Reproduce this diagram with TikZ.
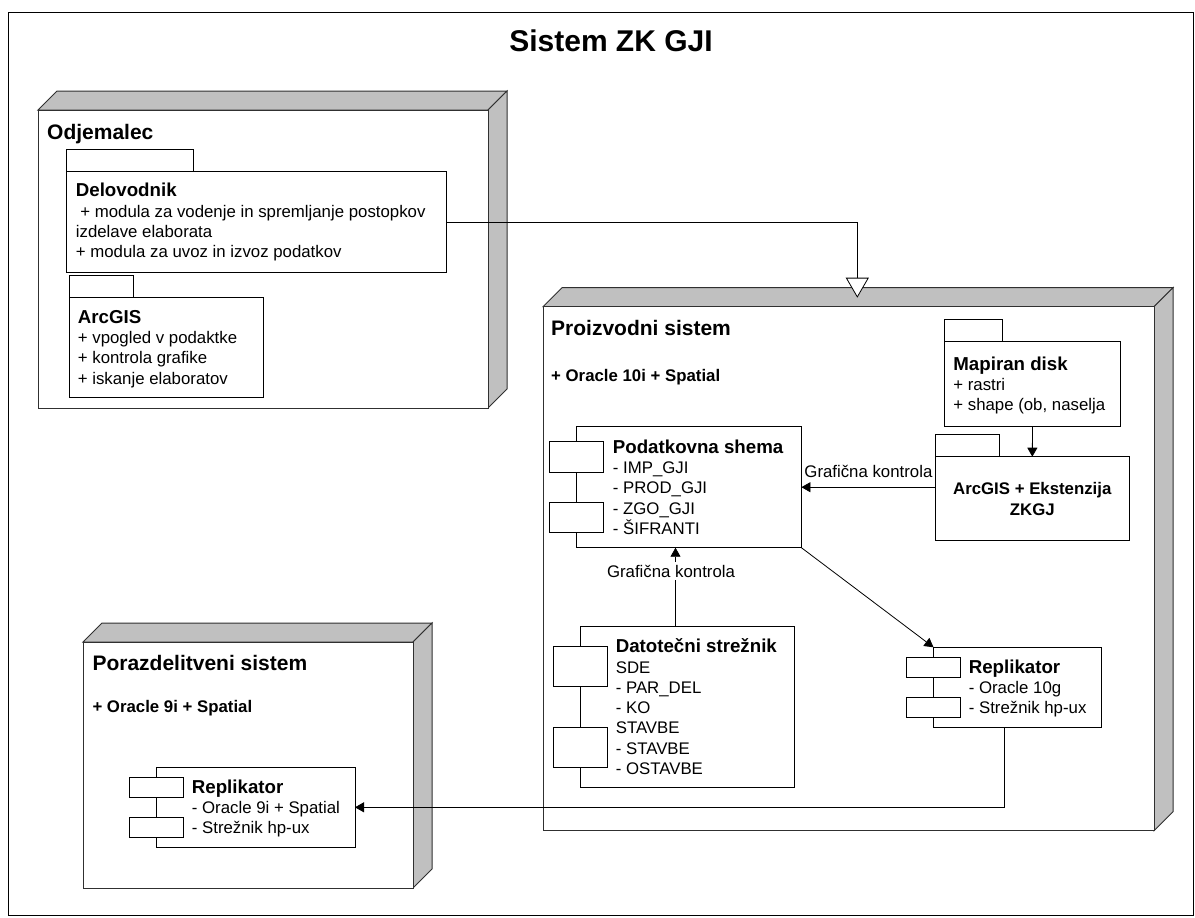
\documentclass[tikz,border=0pt]{standalone}
\usepackage{fontspec}
\setmainfont{Liberation Sans}
\usetikzlibrary{arrows.meta,calc}

\definecolor{facegray}{HTML}{C0C0C0}
\definecolor{edgegray}{HTML}{303030}

\newcommand\nodedepth{19}

% 3D deployment node: name, left, top, right, bottom (front face)
\newcommand\devicenode[5]{%
  \filldraw[shadeface] (#2,#3) -- ++(\nodedepth,-\nodedepth) -- ({#4+\nodedepth},{#3-\nodedepth}) -- (#4,#3) -- cycle;
  \filldraw[shadeface] (#4,#3) -- ({#4+\nodedepth},{#3-\nodedepth}) -- ({#4+\nodedepth},{#5-\nodedepth}) -- (#4,#5) -- cycle;
  \node[frontface, minimum width={#4-#2}, minimum height={#5-#3}] (#1) at (#2,#3) {};
}

% package: name, left, top of body, right end of tab, right, bottom
\newcommand\package[6]{%
  \draw[boxline] (#2,{#3-22}) rectangle (#4,#3);
  \node[boxed, minimum width={#5-#2}, minimum height={#6-#3}] (#1) at (#2,#3) {};
}

% component: name, left, top, right, bottom
\newcommand\component[5]{%
  \node[boxed, minimum width={#4-#2}, minimum height={#5-#3}] (#1) at (#2,#3) {};
  \pgfmathsetmacro\compunit{(#5-#3)/4}
  \filldraw[boxline, fill=white] ({#2-27},{#3+\compunit/2}) rectangle ++(54,\compunit);
  \filldraw[boxline, fill=white] ({#2-27},{#5-1.5*\compunit}) rectangle ++(54,\compunit);
}

\tikzset{
  shadeface/.style={draw=edgegray, fill=facegray, line width=1pt, line join=miter},
  frontface/.style={draw=edgegray, fill=white, line width=1pt, inner sep=0pt, outer sep=0pt, anchor=north west},
  boxline/.style={draw=black, line width=0.9pt},
  boxed/.style={boxline, fill=white, inner sep=0pt, outer sep=0pt, anchor=north west},
  conn/.style={draw=black, line width=0.8pt},
  arr/.style={conn, -{Triangle[length=9pt,width=10pt]}},
  gen/.style={conn, -{Triangle[length=20pt,width=23pt,fill=white,line width=0.8pt]}},
  % multi-line blocks are placed by the baseline of their last line
  txt/.style={anchor=base west, inner sep=0pt, align=left, font=\fontsize{16.8}{20.3}\selectfont},
  bighd/.style={anchor=base west, inner sep=0pt, font=\fontsize{21}{24}\selectfont\bfseries},
  spec/.style={anchor=base west, inner sep=0pt, font=\fontsize{16.8}{20}\selectfont\bfseries},
  lbl/.style={inner sep=0pt, font=\fontsize{16.8}{20}\selectfont},
}
\newcommand\hd[1]{{\fontsize{18.7}{20.3}\selectfont\bfseries #1}}

\begin{document}
\begin{tikzpicture}[x=1pt,y=-1pt]
\useasboundingbox (0,0) rectangle (1195,918);

% system frame
\draw[draw=black, line width=1pt] (8,12) rectangle (1193.5,915.5);
\node[font=\fontsize{30}{33}\selectfont\bfseries, inner sep=0pt] (title) at (611,41) {Sistem ZK GJI};

% deployment nodes
\devicenode{odj}{38}{110}{488}{408}
\devicenode{pro}{543}{306.7}{1154}{830.7}
\devicenode{por}{83}{642}{413}{888}

\node[bighd] (odjt) at (47,139) {Odjemalec};
\node[bighd] (prot) at (551,335.7) {Proizvodni sistem};
\node[spec] (prodb) at (551,381) {+ Oracle 10i + Spatial};
\node[bighd] (port) at (92.3,670.7) {Porazdelitveni sistem};
\node[spec] (pordb) at (92.3,712) {+ Oracle 9i + Spatial};

% packages
\package{del}{66.7}{171.7}{193.3}{446.7}{272.3}
\package{agis}{69}{297.3}{133.7}{263.3}{397.7}
\package{map}{944.3}{341.7}{1002.9}{1120.7}{426}
\package{ext}{935.4}{456.7}{999.9}{1129.2}{540}

\node[txt] (delt) at (75.7,257.6) {\hd{Delovodnik}\\
  \hspace{4.5pt}+ modula za vodenje in spremljanje postopkov\\
  izdelave elaborata\\
  + modula za uvoz in izvoz podatkov};
\node[txt] (agist) at (77.7,384.2) {\hd{ArcGIS}\\
  + vpogled v podaktke\\
  + kontrola grafike\\
  + iskanje elaboratov};
\node[txt] (mapt) at (953.2,410.6) {\hd{Mapiran disk}\\
  + rastri\\
  + shape (ob, naselja};
\node[anchor=base, inner sep=0pt, align=center, font=\fontsize{16.8}{21}\selectfont\bfseries] (extt) at (1032.3,515.3) {ArcGIS + Ekstenzija\\ZKGJ};

% components
\component{pod}{576.6}{426.7}{801.4}{547.7}
\component{dat}{580.5}{626}{794.8}{787.7}
\component{rep}{933.5}{647.3}{1101.8}{727.3}
\component{rpd}{156}{767.3}{355}{847.3}

\node[txt] (podt) at (612.7,534.5) {\hd{Podatkovna shema}\\
  - IMP\_GJI\\
  - PROD\_GJI\\
  - ZGO\_GJI\\
  - ŠIFRANTI};
\node[txt] (datt) at (615.6,774.5) {\hd{Datotečni strežnik}\\
  SDE\\
  - PAR\_DEL\\
  - KO\\
  STAVBE\\
  - STAVBE\\
  - OSTAVBE};
\node[txt] (rept) at (968.6,713.9) {\hd{Replikator}\\
  - Oracle 10g\\
  - Strežnik hp-ux};
\node[txt] (rpdt) at (191.7,833.9) {\hd{Replikator}\\
  - Oracle 9i + Spatial\\
  - Strežnik hp-ux};

% connectors
\coordinate (gentip) at (857.3,297.7);
\draw[gen] (del.east) -| (gentip);

\draw[arr] (map.south) -- (ext.north);

\draw[arr] (ext.west |- pod.east) -- (pod.east)
  node[lbl, midway, anchor=base, yshift=9.5pt] (gk1) {Grafična kontrola};

\coordinate (datup) at ($(dat.north west)+(95,0)$);
\draw[arr] (datup) -- (datup |- pod.south)
  node[lbl, pos=0.7, fill=white, inner xsep=1pt, inner ysep=3pt, xshift=-4.5pt] (gk2) {Grafična kontrola};

\draw[arr] (pod.south east) -- (rep.north west);

\coordinate (repdown) at ($(rep.south west)+(70.5,0)$);
\draw[arr] (repdown) |- (rpd.east);

\end{tikzpicture}
\end{document}
